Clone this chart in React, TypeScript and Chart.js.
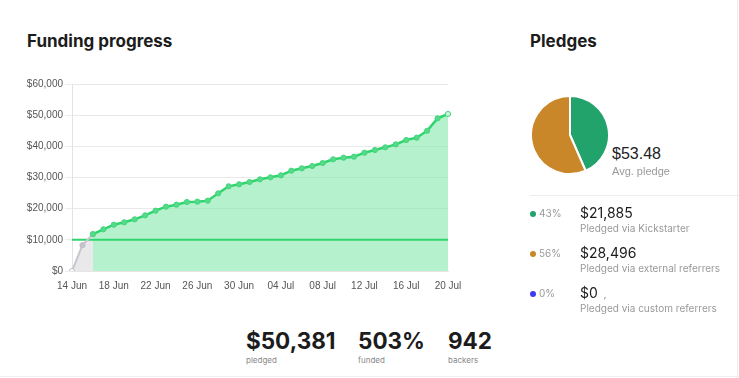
import React, { useEffect, useRef } from "react";
import { Chart, registerables } from "chart.js";

Chart.register(...registerables);

const dates = [
  "14 Jun", "15 Jun", "16 Jun", "17 Jun", "18 Jun", "19 Jun", "20 Jun", "21 Jun", "22 Jun", "23 Jun",
  "24 Jun", "25 Jun", "26 Jun", "27 Jun", "28 Jun", "29 Jun", "30 Jun", "01 Jul", "02 Jul", "03 Jul",
  "04 Jul", "05 Jul", "06 Jul", "07 Jul", "08 Jul", "09 Jul", "10 Jul", "11 Jul", "12 Jul", "13 Jul",
  "14 Jul", "15 Jul", "16 Jul", "17 Jul", "18 Jul", "19 Jul", "20 Jul",
];
const preLaunch = [0, 8300, 11800];
const pledged = [
  11800, 13380, 14860, 15620, 16580, 17860, 19350, 20640, 21280, 22140,
  22250, 22570, 24920, 27170, 27810, 28550, 29410, 30050, 30690, 32180,
  32940, 33690, 34650, 35830, 36350, 36680, 37960, 38820, 39680, 40640,
  42030, 42770, 45000, 48980, 50381,
];
const goal = 10000;
const yTicks = [0, 10000, 20000, 30000, 40000, 50000, 60000];

const pieLabels = ["Kickstarter", "External referrers", "Custom referrers"];
const pieValues = [21885, 28496, 0];
const pieColors = ["#23a36c", "#c9872a", "#3b3bf5"];
const piePercents = ["43%", "56%", "0%"];
const pieAmounts = ["$21,885", "$28,496", "$0"];
const pieSubs = ["Pledged via Kickstarter", "Pledged via external referrers", "Pledged via custom referrers"];

const GREEN = "#2fd46e";
const INTER = "Inter, 'Noto Sans', sans-serif";

export default function App() {
  const lineRef = useRef<HTMLCanvasElement>(null);
  const pieRef = useRef<HTMLCanvasElement>(null);

  useEffect(() => {
    document.body.style.margin = "0";
    const n = dates.length;
    const grayData = dates.map((_, i) => (i < preLaunch.length ? preLaunch[i] : null));
    const offset = preLaunch.length - 1;
    const greenData = dates.map((_, i) => (i >= offset ? pledged[i - offset] : null));
    const goalData = dates.map(() => goal);
    const greenPointBg = dates.map((_, i) => (i === n - 1 ? "#c9f5da" : "#55d98a"));
    const grayPointBg = dates.map((_, i) => (i === 0 ? "#ffffff" : "#c4c4ca"));

    const line = new Chart(lineRef.current!, {
      type: "line",
      data: {
        labels: dates,
        datasets: [
          {
            data: greenData,
            borderColor: GREEN,
            borderWidth: 2.5,
            backgroundColor: "rgba(130, 232, 170, 0.6)",
            fill: "origin",
            pointRadius: 2.6,
            pointBorderWidth: 1,
            pointBackgroundColor: greenPointBg,
            pointBorderColor: "#44d67c",
            tension: 0,
            spanGaps: false,
            order: 0,
          },
          {
            data: grayData,
            borderColor: "#c6c6cc",
            borderWidth: 2,
            backgroundColor: "#e9e9ec",
            fill: "origin",
            pointRadius: 2.6,
            pointBorderWidth: 1,
            pointBackgroundColor: grayPointBg,
            pointBorderColor: "#c0c0c6",
            tension: 0,
            order: 1,
          },
          {
            data: goalData,
            borderColor: GREEN,
            borderWidth: 2,
            pointRadius: 0,
            fill: false,
            order: 2,
          },
        ],
      },
      options: {
        animation: false,
        responsive: false,
        maintainAspectRatio: false,
        layout: { padding: { top: 10, right: 16, left: 0, bottom: 0 } },
        plugins: {
          legend: { display: false },
          tooltip: { enabled: false },
          filler: { drawTime: "beforeDatasetsDraw" },
        },
        scales: {
          x: {
            grid: { display: false },
            border: { display: true, color: "#e6e6e6" },
            ticks: {
              autoSkip: false,
              maxRotation: 0,
              padding: 1,
              color: "#555",
              font: { family: "'Liberation Sans', Arial, sans-serif", size: 10 },
              callback: (_v: any, i: number) => (i % 4 === 0 ? dates[i] : ""),
            },
            afterFit: (s: any) => { s.height = 23; },
          },
          y: {
            min: 0,
            max: 60000,
            afterBuildTicks: (s: any) => { s.ticks = yTicks.map((v) => ({ value: v })); },
            grid: { color: "#e9e9e9", tickLength: 7, tickColor: "#ececec" },
            border: { display: true, color: "#e3e3e3" },
            ticks: {
              padding: 2,
              color: "#555",
              font: { family: "'Liberation Sans', Arial, sans-serif", size: 10 },
              callback: (v: any) => "$" + Number(v).toLocaleString("en-US"),
            },
            afterFit: (s: any) => { s.width = 62; },
          },
        },
      },
    });

    const pie = new Chart(pieRef.current!, {
      type: "pie",
      data: {
        labels: pieLabels,
        datasets: [
          {
            data: pieValues,
            backgroundColor: pieColors,
            borderColor: "#ffffff",
            borderWidth: 2,
          },
        ],
      },
      options: {
        animation: false,
        responsive: false,
        maintainAspectRatio: false,
        plugins: { legend: { display: false }, tooltip: { enabled: false } },
      },
    });

    return () => {
      line.destroy();
      pie.destroy();
    };
  }, []);

  const abs = (s: React.CSSProperties): React.CSSProperties => ({ position: "absolute", ...s });

  return (
    <div style={{ position: "relative", width: 739, height: 378, background: "#fff", overflow: "hidden", fontFamily: INTER }}>
      <div style={abs({ right: 1, top: 0, width: 1, height: 378, background: "#ededed" })} />
      <div style={abs({ left: 0, top: 376, width: 739, height: 1, background: "#efefef" })} />

      <div style={abs({ left: 27, top: 31, fontSize: 17, fontWeight: 700, color: "#1c1c1c", whiteSpace: "nowrap" })}>
        Funding progress
      </div>
      <canvas ref={lineRef} width={454} height={220} style={abs({ left: 10, top: 74, width: 454, height: 220 })} />

      {[
        { x: 246, big: "$50,381", small: "pledged" },
        { x: 358, big: "503%", small: "funded" },
        { x: 448, big: "942", small: "backers" },
      ].map((s) => (
        <div key={s.small} style={abs({ left: s.x, top: 327 })}>
          <div style={{ fontSize: 22.5, fontWeight: 700, color: "#1c1c1c", lineHeight: "28px", whiteSpace: "nowrap" }}>{s.big}</div>
          <div style={{ fontSize: 8, color: "#888", lineHeight: "10px", marginTop: 0 }}>{s.small}</div>
        </div>
      ))}

      <div style={abs({ left: 530, top: 31, fontSize: 17, fontWeight: 700, color: "#1c1c1c" })}>Pledges</div>
      <canvas ref={pieRef} width={80} height={80} style={abs({ left: 530, top: 95, width: 80, height: 80 })} />
      <div style={abs({ left: 612, top: 145, fontSize: 16, color: "#222", fontFamily: "'Liberation Sans', Arial, sans-serif" })}>$53.48</div>
      <div style={abs({ left: 612, top: 165, fontSize: 11, color: "#999", fontFamily: "'Liberation Sans', Arial, sans-serif" })}>Avg. pledge</div>
      <div style={abs({ left: 530, top: 195, width: 209, height: 1, background: "#ececec" })} />

      {pieAmounts.map((amt, i) => {
        const top = 203 + i * 40;
        return (
          <React.Fragment key={i}>
            <div style={abs({ left: 530, top: top + 8, width: 6, height: 6, borderRadius: 3, background: pieColors[i] })} />
            <div style={abs({ left: 539, top: top + 4, fontSize: 10, color: "#999" })}>{piePercents[i]}</div>
            <div style={abs({ left: 580, top: top + 1, fontSize: 14, color: "#1c1c1c", lineHeight: "17px", whiteSpace: "nowrap" })}>
              {amt}
              {i === 2 ? <span style={{ fontSize: 9, color: "#777", marginLeft: 6 }}>,</span> : null}
            </div>
            <div style={abs({ left: 580, top: top + 19, fontSize: 10, color: "#999", whiteSpace: "nowrap" })}>{pieSubs[i]}</div>
          </React.Fragment>
        );
      })}
    </div>
  );
}
